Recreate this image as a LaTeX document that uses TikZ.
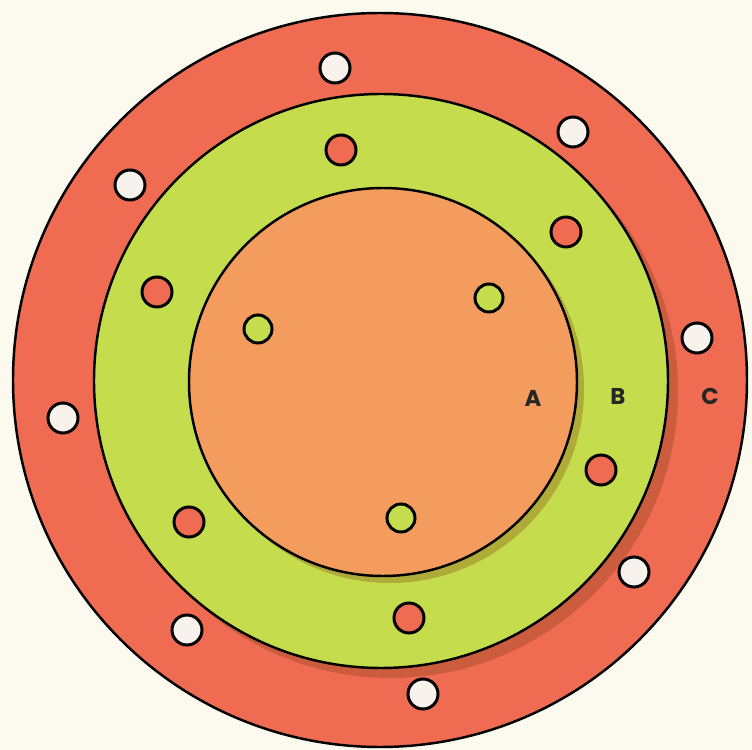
\documentclass[tikz,border=0pt]{standalone}
\usepackage{fontspec}
\usetikzlibrary{positioning}
\newfontfamily\labelfont{Poppins}
\definecolor{paper}{HTML}{FCFAEF}
\definecolor{plateC}{HTML}{EF6B52}
\definecolor{plateB}{HTML}{C5DC4C}
\definecolor{plateA}{HTML}{F39C5E}
\definecolor{holewhite}{HTML}{F7F3EC}
\definecolor{shadowbrown}{HTML}{7A3A10}

\begin{document}
\begin{tikzpicture}[x=0.02cm,y=-0.02cm,
  rim/.style={draw=black,line width=1.4pt},
  shade/.style={fill=shadowbrown,fill opacity=0.3},
  hole/.style={draw=black,line width=1.7pt},
  lbl/.style={font=\labelfont\bfseries\fontsize{13}{13}\selectfont,text=black!85}
]
\fill[paper] (0,0) rectangle (752,750);
\useasboundingbox (0,0) rectangle (752,750);
\coordinate (cC) at (380,380);
\coordinate (cB) at (381,381);
\coordinate (cA) at (383,382);
% outer plate C
\filldraw[rim,fill=plateC] (cC) circle (367);
\fill[shade] ([shift={(10,10)}]cB) circle (287);
% middle plate B
\filldraw[rim,fill=plateB] (cB) circle (287);
\fill[shade] ([shift={(7,7)}]cA) circle (194);
% inner plate A
\filldraw[rim,fill=plateA] (cA) circle (194);
% holes through C
\foreach \x/\y in {335/68,573/132,130/185,697/338,63/418,634/572,187/630,423/694}
  \filldraw[hole,fill=holewhite] (\x,\y) circle (15);
% holes through B
\foreach \x/\y in {341/150,566/232,157/292,601/470,189/522,409/618}
  \filldraw[hole,fill=plateC] (\x,\y) circle (15);
% holes through A
\foreach \x/\y in {489/298,258/329,401/518}
  \filldraw[hole,fill=plateB] (\x,\y) circle (14);
\node[lbl] (lblA) at (533,398) {A};
\node[lbl] (lblB) at (618,396) {B};
\node[lbl] (lblC) at (710,396) {C};
\end{tikzpicture}
\end{document}
